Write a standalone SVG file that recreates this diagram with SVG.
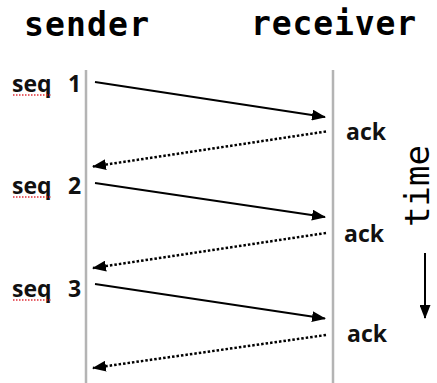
<svg xmlns="http://www.w3.org/2000/svg" width="437" height="383" viewBox="0 0 437 383">
  <style>
    .title { font-family: "DejaVu Sans Mono", "Liberation Mono", monospace; font-weight: bold; font-size: 33px; fill: #000; }
    .time { font-family: "DejaVu Sans Mono", "Liberation Mono", monospace; font-size: 34px; fill: #000; }
    .lbl { font-family: "Open Sans", "Liberation Sans", sans-serif; font-weight: bold; font-size: 23px; fill: #111; }
    .life { stroke: #b4b4b4; stroke-width: 2.5; fill: none; }
    .msg { stroke: #000; stroke-width: 2; fill: none; marker-end: url(#head); }
    .ack { stroke: #000; stroke-width: 2.5; stroke-dasharray: 2.5 2; fill: none; marker-end: url(#head); }
    .squiggle { stroke: #e0303a; stroke-width: 1.3; stroke-dasharray: 1.5 1.5; fill: none; }
  </style>
  <defs>
    <marker id="head" markerUnits="userSpaceOnUse" markerWidth="14" markerHeight="11" refX="13" refY="5.5" orient="auto">
      <path d="M0,0 L14,5.5 L0,11 z" fill="#000"/>
    </marker>
  </defs>

  <rect width="437" height="383" fill="#fff"/>

  <!-- column headings and lifelines -->
  <g id="sender">
    <text class="title" x="24" y="36" textLength="125" lengthAdjust="spacing">sender</text>
    <line class="life" x1="86" y1="70" x2="86" y2="383"/>
  </g>
  <g id="receiver">
    <text class="title" x="251" y="35" textLength="165" lengthAdjust="spacing">receiver</text>
    <line class="life" x1="333" y1="70" x2="333" y2="383"/>
  </g>

  <!-- sequence labels -->
  <g id="seq1">
    <text class="lbl" x="12" y="92">seq <tspan x="68">1</tspan></text>
    <line class="squiggle" x1="13" y1="95" x2="52" y2="95"/>
  </g>
  <g id="seq2">
    <text class="lbl" x="12" y="194">seq <tspan x="68">2</tspan></text>
    <line class="squiggle" x1="13" y1="197" x2="52" y2="197"/>
  </g>
  <g id="seq3">
    <text class="lbl" x="12" y="297">seq <tspan x="68">3</tspan></text>
    <line class="squiggle" x1="13" y1="300" x2="52" y2="300"/>
  </g>

  <!-- acknowledgement labels -->
  <g id="ack1"><text class="lbl" x="346" y="140">ack</text></g>
  <g id="ack2"><text class="lbl" x="344" y="242">ack</text></g>
  <g id="ack3"><text class="lbl" x="347" y="342">ack</text></g>

  <!-- time axis -->
  <g id="time">
    <text class="time" transform="translate(429,186) rotate(-90)" text-anchor="middle">time</text>
    <line x1="425" y1="253" x2="425" y2="318" stroke="#000" stroke-width="2" marker-end="url(#head)"/>
  </g>

  <!-- messages -->
  <g id="connectors">
    <line class="msg" x1="95" y1="82" x2="325" y2="117"/>
    <line class="ack" x1="326" y1="131.5" x2="93" y2="166.5"/>
    <line class="msg" x1="95" y1="183" x2="325" y2="217"/>
    <line class="ack" x1="326" y1="233" x2="93" y2="268"/>
    <line class="msg" x1="95" y1="284" x2="325" y2="318.5"/>
    <line class="ack" x1="326" y1="335" x2="93" y2="368"/>
  </g>
</svg>
